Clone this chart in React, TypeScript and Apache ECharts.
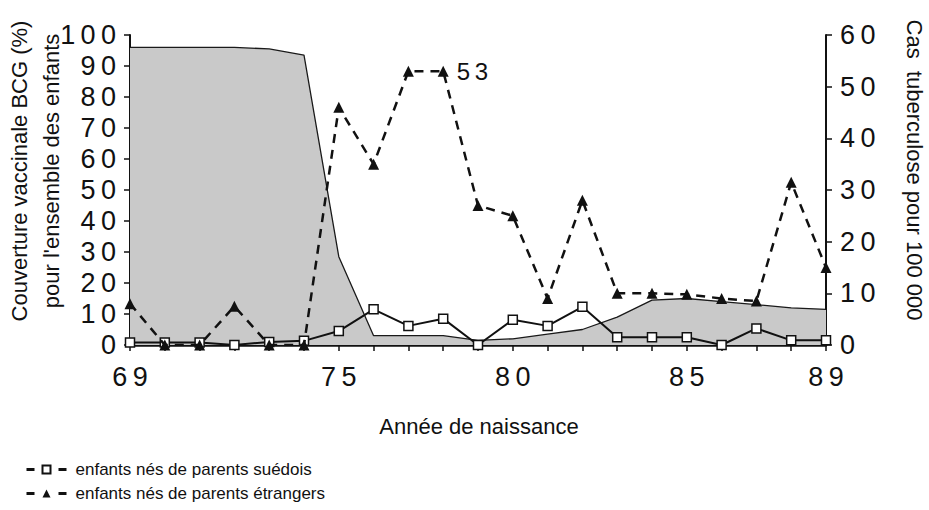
import React, { useEffect, useRef } from "react";
import * as echarts from "echarts";

const years = ["69", "70", "71", "72", "73", "74", "75", "76", "77", "78", "79", "80", "81", "82", "83", "84", "85", "86", "87", "88", "89"];
const shownYears = ["69", "75", "80", "85", "89"];
// BCG coverage (%) - left axis
const coverageBCG = [96, 96, 96, 96, 95.5, 93.5, 28.5, 3, 3, 3, 1.5, 2, 3.5, 5, 9, 14.5, 15, 14, 13, 12, 11.5];
// TB cases per 100 000 - right axis
const swedishParents = [0.5, 0.5, 0.5, 0, 0.6, 0.8, 2.7, 6.9, 3.7, 5.1, 0, 4.9, 3.7, 7.4, 1.5, 1.5, 1.5, 0, 3.2, 0.9, 0.9];
const foreignParents = [8, 0, 0, 7.5, 0, 0, 46, 35, 53, 53, 27, 25, 9, 28, 10, 10, 9.8, 9, 8.5, 31.5, 15];
const labelledYear = "78";

const seriesSwedish = "enfants nés de parents suédois";
const seriesForeign = "enfants nés de parents étrangers";

const FONT = "'Liberation Sans', Arial, Helvetica, sans-serif";
const spaced = (v: number | string) => String(v).split("").join("\u2009");

export default function App() {
  const ref = useRef<HTMLDivElement>(null);
  useEffect(() => {
    document.body.style.margin = "0";
    const chart = echarts.init(ref.current!, null, { renderer: "svg" });
    chart.setOption({
      animation: false,
      backgroundColor: "#ffffff",
      textStyle: { fontFamily: FONT, color: "#111" },
      grid: { left: 130, right: 103, top: 35, bottom: 165, containLabel: false },
      legend: {
        orient: "vertical",
        left: 20,
        top: 456,
        itemWidth: 40,
        itemHeight: 10,
        itemGap: 7,
        lineStyle: { type: [8, 24], width: 3, color: "#111" },
        data: [seriesSwedish, seriesForeign],
        textStyle: { fontFamily: FONT, fontSize: 17, color: "#111", padding: [0, 0, 0, 4] },
      },
      xAxis: {
        type: "category",
        data: years,
        boundaryGap: false,
        axisLine: { lineStyle: { color: "#111", width: 2.5 } },
        axisTick: { show: true, interval: 0, length: 6, lineStyle: { color: "#111", width: 1.5 } },
        axisLabel: {
          interval: (_i: number, v: string) => shownYears.includes(v),
          formatter: (v: string) => spaced(v),
          fontSize: 27,
          color: "#111",
          margin: 18,
          fontFamily: FONT,
        },
        splitLine: { show: false },
      },
      yAxis: [
        {
          type: "value",
          min: 0,
          max: 100,
          interval: 10,
          position: "left",
          axisLine: { show: true, lineStyle: { color: "#111", width: 2 } },
          axisTick: { show: true, length: 6, lineStyle: { color: "#111", width: 1.5 } },
          axisLabel: { fontSize: 27, color: "#111", margin: 14, formatter: (v: number) => spaced(v), fontFamily: FONT },
          splitLine: { show: false },
        },
        {
          type: "value",
          min: 0,
          max: 60,
          interval: 10,
          position: "right",
          axisLine: { show: true, lineStyle: { color: "#111", width: 2 } },
          axisTick: { show: true, length: 6, lineStyle: { color: "#111", width: 1.5 } },
          axisLabel: { fontSize: 27, color: "#111", margin: 14, formatter: (v: number) => spaced(v), fontFamily: FONT },
          splitLine: { show: false },
        },
      ],
      series: [
        {
          name: "Couverture BCG",
          type: "line",
          yAxisIndex: 0,
          data: coverageBCG,
          symbol: "none",
          lineStyle: { color: "#1a1a1a", width: 1.3 },
          areaStyle: { color: "#c9c9c9", opacity: 1 },
          z: 1,
        },
        {
          name: seriesSwedish,
          type: "line",
          yAxisIndex: 1,
          data: swedishParents,
          symbol: "rect",
          symbolSize: 9,
          showAllSymbol: true,
          lineStyle: { color: "#111", width: 2 },
          itemStyle: { color: "#ffffff", borderColor: "#111", borderWidth: 1.5 },
          z: 3,
        },
        {
          name: seriesForeign,
          type: "line",
          yAxisIndex: 1,
          data: foreignParents.map((v, i) =>
            years[i] === labelledYear
              ? {
                  value: v,
                  label: {
                    show: true,
                    position: "right",
                    distance: 8,
                    formatter: () => spaced(v),
                    fontSize: 24,
                    color: "#111",
                    fontFamily: FONT,
                  },
                }
              : v
          ),
          symbol: "triangle",
          symbolSize: 11,
          showAllSymbol: true,
          lineStyle: { color: "#111", width: 2.5, type: [9, 7] },
          itemStyle: { color: "#111", borderColor: "#111", borderWidth: 0 },
          z: 4,
        },
      ],
      graphic: [
        {
          type: "text",
          x: 35,
          y: 171,
          rotation: Math.PI / 2,
          style: {
            text: "Couverture vaccinale BCG (%)\npour l'ensemble des enfants",
            font: `22px ${FONT}`,
            fill: "#111",
            align: "center",
            verticalAlign: "middle",
            lineHeight: 32,
          },
        },
        {
          type: "text",
          x: 914,
          y: 170,
          rotation: -Math.PI / 2,
          style: {
            text: "Cas  tuberculose pour 100 000",
            font: `22px ${FONT}`,
            fill: "#111",
            align: "center",
            verticalAlign: "middle",
          },
        },
        {
          type: "text",
          x: 479,
          y: 426,
          style: {
            text: "Année de naissance",
            font: `22px ${FONT}`,
            fill: "#111",
            align: "center",
            verticalAlign: "middle",
          },
        },
      ],
    });
    return () => chart.dispose();
  }, []);
  return <div ref={ref} style={{ width: 929, height: 510 }} />;
}
